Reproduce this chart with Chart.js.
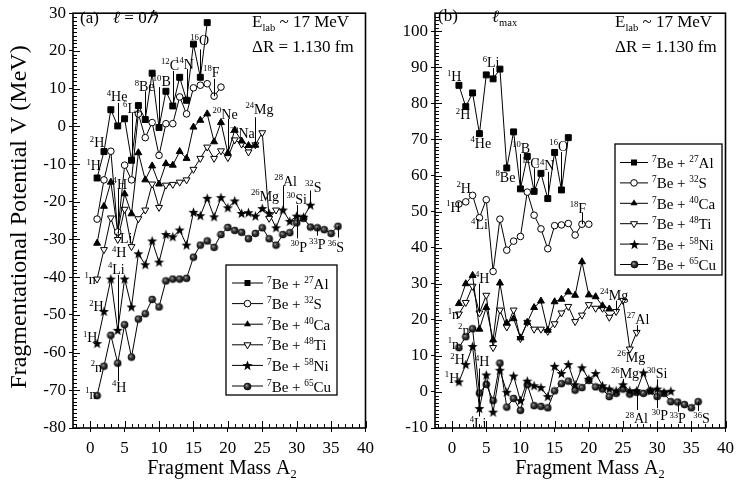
<!DOCTYPE html>
<html>
<head>
<meta charset="utf-8">
<script src="https://cdn.jsdelivr.net/npm/chart.js@4.4.1/dist/chart.umd.min.js"></script>
<style>
body { margin: 0; background: #fff; width: 740px; height: 488px; overflow: hidden; position: relative; }
.panel { position: absolute; top: 0; height: 488px; }
#pa { left: 0; width: 380px; }
#pb { left: 380px; width: 360px; }
</style>
</head>
<body>
<div class="panel" id="pa"><canvas id="chartA"></canvas></div>
<div class="panel" id="pb"><canvas id="chartB"></canvas></div>
<script>
// --- Data: value at index i belongs to fragment mass A2 = i + 1 ---

// panel (a), l = 0
const aAl = [-13.7, -6.7, 4.4, 0.1, 2, -9, 5.5, 1.8, 14.1, -0.3, 9.3, 5.4, 13, 6.9, 21.8, 13, 27.5];
const aS  = [-24.6, -14.2, -6.6, -28, -10.3, -14.2, 3.3, -3, 1, -7.7, 0.7, 0.7, 7.8, 3.3, 10.2, 10.9, 11.3, 8, 10.4];
const aCa = [-31, -21.2, -14.8, -28, -17.9, -23.2, -7, -14.2, -10.5, -15.3, -9.9, -10.3, -6.7, -8.5,
             -0.2, 1.6, 3.3, -4.1, 1, -7.1, -1, -3.9, -5.1, -5];
const aTi = [-40.5, -32.7, -24.3, -30, -22, -31.9, -24.5, -22.2, -15.3, -21.5, -15.6, -15.4, -14.8, -14.2,
             -11.4, -8.5, -5.5, -8.5, -6.5, -8.3, -3.6, -4.7, -6.8, -4.9, -1.7, -24.4, -22.2];
const aNi = [-57.6, -49.1, -40.5, -54.1, -40.5, -47.9, -33.8, -36.7, -30.4, -36, -28.7, -29.3, -27.5, -31.5,
             -22.8, -23.7, -19.1, -24, -18.9, -21.6, -19.8, -23.1, -22.9, -23.8, -21.8, -23.1, -26.9, -22.2,
             -25.2, -23.8, -24.1, -20.9];
const aCu = [-71.4, -63.6, -55.4, -62.8, -52.6, -61.2, -51.1, -49.7, -45.9, -47.9, -41, -40.5, -40.5, -40.3,
             -34.7, -31.5, -30.4, -32.1, -28.7, -26.8, -27.6, -28.1, -29.8, -28.4, -26.9, -29.8, -31.5, -28.7,
             -28.2, -25.6, -24.4, -26.7, -26.9, -27.4, -28.4, -26.5];

// panel (b), l = lmax
const bAl = [85, 79.1, 82.9, 71.6, 87.9, 86.8, 89.5, 62.1, 72.1, 56.3, 65.3, 55.6, 60.6, 53.6, 66.4, 56, 70.5];
const bS  = [52.1, 52.7, 54.5, 48.3, 53.3, 33.4, 47.9, 39.3, 41.8, 43.1, 55.4, 49, 45.2, 39.7, 46.1, 46.3,
             46.7, 43.5, 46.5, 46.5];
const bCa = [24.5, 30, 32.3, 17.4, 23.4, 14.4, 30.2, 19.1, 20.3, 15, 19.3, 23.4, 25.2, 17.1, 25, 25.7,
             27.7, 26.8, 36.1, 26.9, 26.4, 23.9, 23];
const bTi = [21.6, 24.8, 29.3, 21.9, 26.8, 12.3, 22.7, 18, 22.7, 14.8, 19.3, 17.4, 17.4, 16.8, 18.9, 21.9,
             23.7, 19.5, 21.3, 24.2, 23.2, 23.2, 20.7, 22.3, 25.4, 11.9, 16.5];
const bNi = [2.8, 7.6, 12.6, -4.6, 4.7, -5.6, 6, -0.1, 4.4, -2.4, 3, 1.7, 1.2, -1.3, 7.1, 5.1, 7.6, 2,
             6.7, 3.5, 5.1, 1.7, 0.8, 0.3, 2, 0.3, 0.3, 5.3, 0.3, 0.8, -0.1, 0.2];
const bCu = [12.3, 15.3, 17.5, -0.3, 2.1, -2.4, 8, -4.2, -1.8, -5.1, 2, -3.8, -4, -4.4, 0.3, 2.3, 3, 0.5,
             1.2, 3.2, 1.4, 0.8, -1.3, -0.4, 0.8, -0.6, -0.1, -0.4, 0.3, -1.3, -0.4, -2.7, -2.8, -3.5, -4.4, -2.7];

// legend targets (7Be + target)
const targetMass = ['27', '32', '40', '48', '58', '65'];
const targetSym  = ['Al', 'S', 'Ca', 'Ti', 'Ni', 'Cu'];

// ticks
const xTicks = [0, 5, 10, 15, 20, 25, 30, 35, 40];
const aYTicks = [-80, -70, -60, -50, -40, -30, -20, -10, 0, 10, 20, 30];
const bYTicks = [-10, 0, 10, 20, 30, 40, 50, 60, 70, 80, 90, 100];

// fragment labels: [mass, symbol, A, V, (leader line A, V1, V2)]
const aLabels = [
  ['1', 'H', 0.5, -10.3], ['2', 'H', 1.0, -4.2],
  ['4', 'He', 3.9, 8, 4, 6.2, 0.1], ['6', 'Li', 6.0, 4.9, 6, 3.6, -9],
  ['8', 'Be', 7.9, 10.6, 8, 9.3, 1.8], ['10', 'B', 10.4, 11.9, 10, 10.4, -0.3],
  ['12', 'C', 11.6, 16.3, 12, 14.7, 5.4], ['14', 'N', 13.7, 16.6, 14, 15.2, 6.9],
  ['16', 'O', 15.9, 22.8, 16, 20.4, 13], ['18', 'F', 17.6, 14.5, 18, 12.6, 8],
  ['20', 'Ne', 19.6, 3.4, 20, 2, -7], ['22', 'Na', 22.1, -1.8],
  ['24', 'Mg', 24.6, 4.6, 24, 2.4, -5], ['28', 'Al', 28.4, -14.5, 28, -15.7, -22.2],
  ['26', 'Mg', 25.4, -18.4], ['30', 'Si', 30, -19.2, 30, -20.9, -25.6],
  ['32', 'S', 32.4, -16, 32, -17, -20.9], ['30', 'P', 30.3, -32, 30, -25.6, -29.7],
  ['33', 'P', 33, -31.3, 33, -26.9, -29], ['36', 'S', 35.7, -32, 36, -26.5, -29.5],
  ['4', 'H', 4.3, -15.3, 4, -16.6, -28.2], ['4', 'Li', 4.9, -29.5], ['4', 'H', 4.2, -33.4],
  ['1', 'n', 0.0, -40.4], ['4', 'Li', 3.8, -37.8, 4, -39.4, -54.1],
  ['2', 'H', 0.9, -47.7], ['1', 'H', 0.0, -56], ['2', 'n', 0.9, -63.7],
  ['4', 'H', 4.2, -69, 4, -62.8, -67.6], ['1', 'n', 0.1, -71]
];
const bLabels = [
  ['1', 'H', 0.3, 87.5], ['6', 'Li', 5.7, 91.4, 6, 89.8, 86.8], ['2', 'H', 1.6, 77],
  ['4', 'He', 4.2, 69], ['8', 'Be', 7.8, 59.6], ['10', 'B', 10.1, 67.7, 10, 66, 56.3],
  ['12', 'C', 11.5, 63.4, 12, 62, 55.6], ['14', 'N', 13.6, 62.8, 14, 61, 53.6],
  ['16', 'O', 15.6, 68.3, 16, 66.5, 56], ['18', 'F', 18.4, 51.1, 19, 49.8, 46.5],
  ['2', 'H', 1.7, 56.6], ['1', 'H', 0.2, 51.4], ['4', 'Li', 4, 46.5],
  ['4', 'H', 4.4, 31.6, 4, 30, 21.9], ['1', 'n', 0.2, 21.5], ['2', 'n', 1.7, 17.2],
  ['1', 'n', 0.2, 13.4], ['2', 'H', 0.8, 9], ['4', 'H', 4.4, 8.5, 4, 6.5, -4.6], ['1', 'H', 0, 3.9],
  ['24', 'Mg', 23.7, 27, 24, 25.3, 22.3], ['27', 'Al', 27.2, 20.2, 27, 18.5, 16.5],
  ['26', 'Mg', 26.2, 9.8], ['26', 'Mg', 25.3, 5.2, 25, 3.6, 2], ['30', 'Si', 30, 5.2, 30, 3.5, -1.3],
  ['28', 'Al', 27, -7.3, 27, 0.3, -5], ['30', 'P', 30.4, -6.5, 30, -1.3, -4.5],
  ['33', 'P', 33, -7.3, 33, -2.8, -5.5], ['36', 'S', 36.5, -7.3, 36, -2.7, -5.3],
  ['4', 'Li', 3.8, -8.6, 4, -4.6, -6.8]
];

const SERIF = '"Liberation Serif", "Times New Roman", serif';

// --- Marker images ---
function makeStar() {
  const c = document.createElement('canvas');
  c.width = c.height = 11;
  const g = c.getContext('2d');
  g.fillStyle = '#000';
  g.beginPath();
  for (let k = 0; k < 10; k++) {
    const r = k % 2 ? 2.2 : 5.3;
    const ang = -Math.PI / 2 + k * Math.PI / 5;
    g.lineTo(5.5 + r * Math.cos(ang), 5.9 + r * Math.sin(ang));
  }
  g.closePath();
  g.fill();
  return c;
}
function makeSphere() {
  const c = document.createElement('canvas');
  c.width = c.height = 9;
  const g = c.getContext('2d');
  const grad = g.createRadialGradient(3.4, 3.4, 0, 4.5, 4.5, 4.2);
  grad.addColorStop(0, '#aaa');
  grad.addColorStop(0.45, '#333');
  grad.addColorStop(1, '#000');
  g.fillStyle = grad;
  g.beginPath();
  g.arc(4.5, 4.5, 3.8, 0, Math.PI * 2);
  g.fill();
  return c;
}
const starImg = makeStar();
const sphereImg = makeSphere();

const seriesStyle = [
  { pointStyle: 'rect', pointRadius: 4.2, pointBackgroundColor: '#000' },
  { pointStyle: 'circle', pointRadius: 3.3, pointBackgroundColor: '#fff' },
  { pointStyle: 'triangle', pointRadius: 4, pointBackgroundColor: '#000' },
  { pointStyle: 'triangle', pointRotation: 180, pointRadius: 4, pointBackgroundColor: '#fff' },
  { pointStyle: starImg, pointRadius: 4 },
  { pointStyle: sphereImg, pointRadius: 4 }
];

function toXY(vals) {
  return vals.map((v, i) => ({ x: i + 1, y: v }));
}

function buildDatasets(seriesList) {
  return seriesList.map((vals, i) => Object.assign({
    label: '7Be + ' + targetMass[i] + targetSym[i],
    data: toXY(vals),
    showLine: true,
    borderColor: '#000',
    borderWidth: 1,
    pointBorderColor: '#000',
    pointBorderWidth: 1
  }, seriesStyle[i]));
}

// text with superscript / subscript / italic pieces
function drawParts(ctx, parts, x, y, size, align) {
  let w = 0;
  const segs = parts.map(([t, m]) => {
    const small = (m === 'sup' || m === 'sub');
    const fs = small ? size * 0.62 : size;
    const font = (m === 'i' ? 'italic ' : '') + fs + 'px ' + SERIF;
    ctx.font = font;
    const sw = ctx.measureText(t).width;
    w += sw;
    return { t, m, font, sw };
  });
  let cx = align === 'center' ? x - w / 2 : (align === 'right' ? x - w : x);
  ctx.textAlign = 'left';
  ctx.textBaseline = 'alphabetic';
  segs.forEach(s => {
    ctx.font = s.font;
    const dy = s.m === 'sup' ? -size * 0.4 : (s.m === 'sub' ? size * 0.22 : 0);
    ctx.fillText(s.t, cx, y + dy);
    cx += s.sw;
  });
}

function drawMarker(ctx, i, x, y) {
  ctx.fillStyle = '#000';
  ctx.strokeStyle = '#000';
  ctx.lineWidth = 1;
  ctx.beginPath();
  if (i === 0) {
    ctx.rect(x - 3, y - 3, 6, 6); ctx.fill();
  } else if (i === 1) {
    ctx.arc(x, y, 3.3, 0, Math.PI * 2); ctx.fillStyle = '#fff'; ctx.fill(); ctx.stroke();
  } else if (i === 2) {
    ctx.moveTo(x, y - 4); ctx.lineTo(x + 3.5, y + 2); ctx.lineTo(x - 3.5, y + 2); ctx.closePath(); ctx.fill();
  } else if (i === 3) {
    ctx.moveTo(x, y + 4); ctx.lineTo(x + 3.5, y - 2); ctx.lineTo(x - 3.5, y - 2); ctx.closePath();
    ctx.fillStyle = '#fff'; ctx.fill(); ctx.stroke();
  } else {
    const img = i === 4 ? starImg : sphereImg;
    ctx.drawImage(img, Math.round(x - img.width / 2), Math.round(y - img.height / 2));
  }
}

// frame, minor ticks, labels, legend and titles
function panelPlugin(p) {
  return {
    id: 'panelDecor',
    afterDraw(chart) {
      const ctx = chart.ctx, a = chart.chartArea;
      const xs = chart.scales.x, ys = chart.scales.y;
      ctx.save();
      ctx.strokeStyle = '#000';
      ctx.fillStyle = '#000';
      ctx.lineWidth = 1;
      ctx.beginPath();
      for (let v = Math.ceil(xs.min); v <= xs.max; v++) {
        const px = Math.round(xs.getPixelForValue(v)) + 0.5;
        const len = v % 5 === 0 ? 7 : 4;
        ctx.moveTo(px, a.bottom); ctx.lineTo(px, a.bottom - len);
      }
      for (let v = Math.ceil(ys.min); v <= ys.max; v++) {
        const py = Math.round(ys.getPixelForValue(v)) + 0.5;
        const len = v % 10 === 0 ? 7 : 4;
        ctx.moveTo(a.left, py); ctx.lineTo(a.left + len, py);
      }
      ctx.stroke();
      ctx.lineWidth = 1.6;
      ctx.strokeRect(a.left, a.top, a.right - a.left, a.bottom - a.top);

      // fragment labels
      ctx.lineWidth = 1;
      p.labels.forEach(l => {
        const px = xs.getPixelForValue(l[2]);
        const py = ys.getPixelForValue(l[3]);
        drawParts(ctx, [[l[0], 'sup'], [l[1], '']], px, py + 5, 14, 'center');
        if (l.length > 4) {
          const lx = Math.round(xs.getPixelForValue(l[4])) + 0.5;
          ctx.beginPath();
          ctx.moveTo(lx, ys.getPixelForValue(l[5]));
          ctx.lineTo(lx, ys.getPixelForValue(l[6]));
          ctx.stroke();
        }
      });

      // legend
      const L = p.legend;
      ctx.fillStyle = '#fff';
      ctx.fillRect(L.x, L.y, L.w, L.h);
      ctx.strokeStyle = '#000';
      ctx.lineWidth = 1.3;
      ctx.strokeRect(L.x, L.y, L.w, L.h);
      targetMass.forEach((m, i) => {
        const ry = L.row0 + i * L.dy;
        ctx.lineWidth = 1;
        ctx.strokeStyle = '#000';
        ctx.beginPath();
        ctx.moveTo(L.x1, ry); ctx.lineTo(L.x2, ry);
        ctx.stroke();
        drawMarker(ctx, i, (L.x1 + L.x2) / 2, ry);
        ctx.fillStyle = '#000';
        drawParts(ctx, [['7', 'sup'], ['Be + ', ''], [m, 'sup'], [targetSym[i], '']], L.tx, ry + 5.5, 15, 'left');
      });

      // panel texts
      ctx.fillStyle = '#000';
      p.texts.forEach(t => drawParts(ctx, t.parts, t.x, t.y, t.size, 'left'));

      // axis titles
      drawParts(ctx, [['Fragment Mass A', ''], ['2', 'sub']], p.xTitleX, 474, 20, 'center');
      if (p.yTitle) {
        ctx.save();
        ctx.translate(18, 217);
        ctx.rotate(-Math.PI / 2);
        drawParts(ctx, [['Fragmentational Potential V (MeV)', '']], 0, 8, 24, 'center');
        ctx.restore();
      }
      ctx.restore();
    }
  };
}

function makeChart(canvasId, seriesList, yMin, yMax, yTicks, yWidth, padRight, plugin) {
  const tickFont = { family: SERIF, size: 17 };
  return new Chart(document.getElementById(canvasId), {
    type: 'scatter',
    data: { datasets: buildDatasets(seriesList) },
    options: {
      responsive: true,
      maintainAspectRatio: false,
      animation: false,
      layout: { padding: { left: 0, right: padRight, top: 5, bottom: 0 } },
      plugins: { legend: { display: false }, tooltip: { enabled: false } },
      scales: {
        x: {
          type: 'linear', min: -2.5, max: 40,
          afterBuildTicks: s => { s.ticks = xTicks.map(v => ({ value: v })); },
          afterFit: s => { s.height = 60; },
          ticks: { font: tickFont, color: '#000', padding: 6, maxRotation: 0 },
          grid: { display: true, drawOnChartArea: false, drawTicks: true, tickLength: 4, color: '#000' },
          border: { display: false }
        },
        y: {
          type: 'linear', min: yMin, max: yMax,
          afterBuildTicks: s => { s.ticks = yTicks.map(v => ({ value: v })); },
          afterFit: s => { s.width = yWidth; },
          ticks: { font: tickFont, color: '#000', padding: 3 },
          grid: { display: true, drawOnChartArea: false, drawTicks: true, tickLength: 4, color: '#000' },
          border: { display: false }
        }
      }
    },
    plugins: [plugin]
  });
}

const chartA = makeChart('chartA', [aAl, aS, aCa, aTi, aNi, aCu], -80, 30, aYTicks, 73, 10, panelPlugin({
  labels: aLabels,
  legend: { x: 226, y: 265, w: 111, h: 130, row0: 283, dy: 20.6, x1: 232, x2: 263, tx: 267 },
  texts: [
    { parts: [['(a)', '']], x: 80, y: 23, size: 17 },
    { parts: [['\u2113', 'i'], [' = 0', ''], ['\u210F', 'i']], x: 113, y: 23, size: 17 },
    { parts: [['E', ''], ['lab', 'sub'], [' ~ 17 MeV', '']], x: 252, y: 27, size: 17 },
    { parts: [['\u0394R = 1.130 fm', '']], x: 252, y: 52, size: 17 }
  ],
  xTitleX: 222,
  yTitle: true
}));

const chartB = makeChart('chartB', [bAl, bS, bCa, bTi, bNi, bCu], -10, 105, bYTicks, 55, 8, panelPlugin({
  labels: bLabels,
  legend: { x: 235, y: 144, w: 107, h: 131, row0: 162.5, dy: 20.4, x1: 240, x2: 268, tx: 272 },
  texts: [
    { parts: [['(b)', '']], x: 58, y: 21, size: 17 },
    { parts: [['\u2113', 'i'], ['max', 'sub']], x: 112, y: 22, size: 17 },
    { parts: [['E', ''], ['lab', 'sub'], [' ~ 17 MeV', '']], x: 235, y: 27, size: 17 },
    { parts: [['\u0394R = 1.130 fm', '']], x: 235, y: 52, size: 17 }
  ],
  xTitleX: 210,
  yTitle: false
}));
</script>
</body>
</html>
